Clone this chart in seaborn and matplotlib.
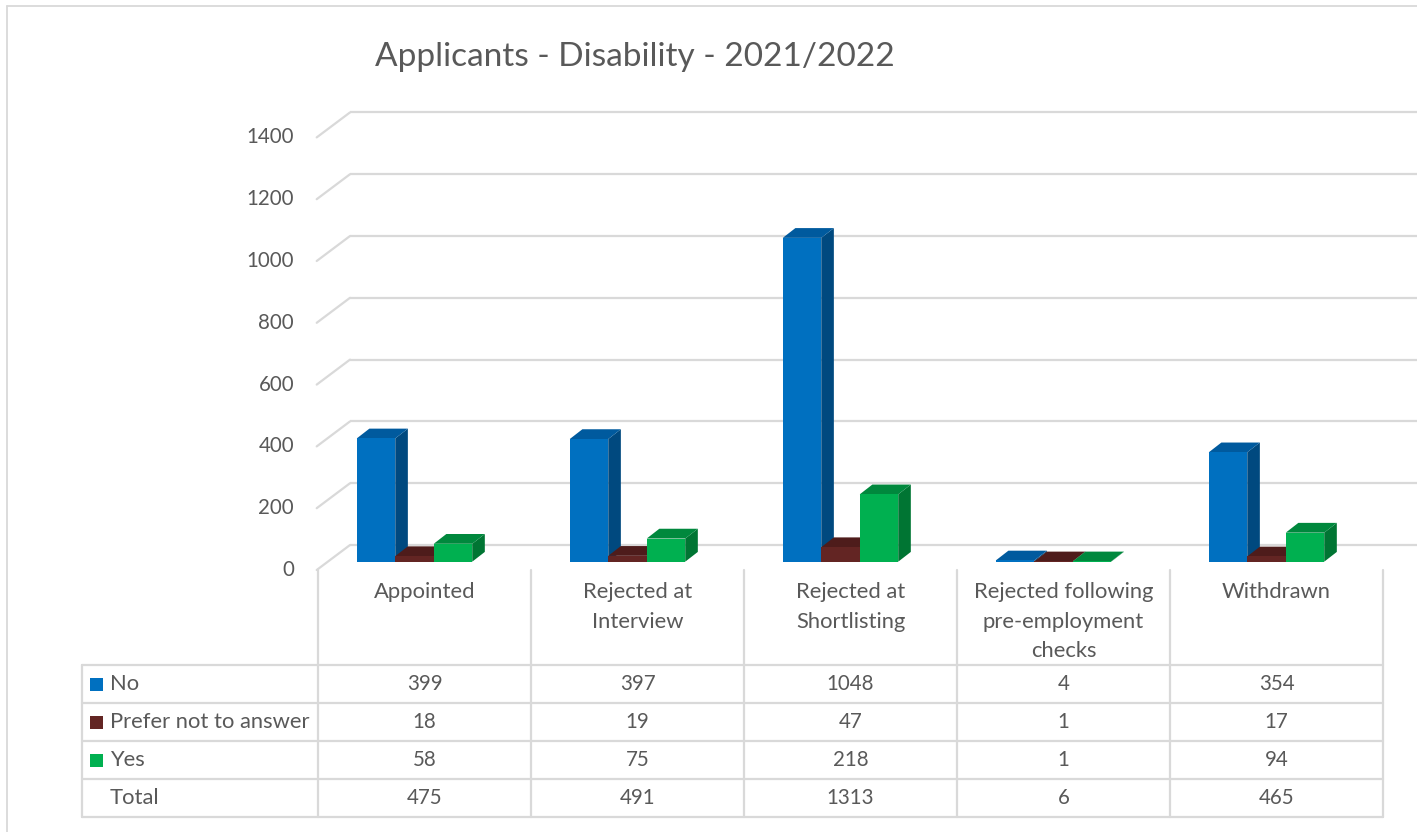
import matplotlib
matplotlib.use("Agg")
import matplotlib.pyplot as plt
from matplotlib.patches import Polygon, Rectangle
from matplotlib.lines import Line2D
import seaborn as sns
import pandas as pd

# ---- data -------------------------------------------------------------
stages = ["Appointed", "Rejected at\nInterview", "Rejected at\nShortlisting",
          "Rejected following\npre-employment\nchecks", "Withdrawn"]
responses = ["No", "Prefer not to answer", "Yes"]
no_counts = [399, 397, 1048, 4, 354]
prefer_counts = [18, 19, 47, 1, 17]
yes_counts = [58, 75, 218, 1, 94]
totals = [475, 491, 1313, 6, 465]
y_ticks = [0, 200, 400, 600, 800, 1000, 1200, 1400]
title = "Applicants - Disability - 2021/2022"

front_colors = ["#0070C0", "#632523", "#00B050"]
top_colors = ["#005A9E", "#4E1C1B", "#00883D"]
side_colors = ["#00497F", "#471918", "#007533"]
grid_color = "#D9D9D9"
text_color = "#595959"

label_size = 15.8
number_size = 14.8

# ---- figure / pixel helpers ------------------------------------------
W, H = 1417, 832
sns.set_theme(style="white")
plt.rcParams["font.family"] = ["Lato", "DejaVu Sans"]
fig = plt.figure(figsize=(W / 100, H / 100), dpi=100)


def fx(px):
    return px / W


def fy(py):
    return 1 - py / H


def hline(x0, x1, y, **kw):
    fig.add_artist(Line2D([fx(x0), fx(x1)], [fy(y), fy(y)],
                          transform=fig.transFigure, **kw))


def vline(x, y0, y1, **kw):
    fig.add_artist(Line2D([fx(x), fx(x)], [fy(y0), fy(y1)],
                          transform=fig.transFigure, **kw))


# outer chart frame
hline(7, W, 6, color=grid_color, lw=1.3)
vline(7, 6, H, color=grid_color, lw=1.3)

# ---- 3D column area ---------------------------------------------------
# axes spans the whole figure; data units: x = category, y = value
cat_px = 213.0          # pixels per category
x0_px = 414.5           # pixel x of the first group centre (front face)
val_px = 0.309          # pixels per unit of value
base_py = 561.7         # pixel y of value 0 on the bars' front plane
depth_ratio = 0.776     # vertical / horizontal shift of receding edges

ax = fig.add_axes([0, 0, 1, 1])
df = pd.DataFrame({
    "stage": [s for s in stages for _ in responses],
    "response": responses * len(stages),
    "count": [v for trio in zip(no_counts, prefer_counts, yes_counts) for v in trio],
})
sns.barplot(data=df, x="stage", y="count", hue="response", order=stages,
            hue_order=responses, palette=front_colors, width=0.542, gap=0,
            saturation=1, dodge=True, legend=False, ax=ax, zorder=3,
            linewidth=0)

xlim = (-x0_px / cat_px, (W - x0_px) / cat_px)
ylim = (-(H - base_py) / val_px, base_py / val_px)
ax.set_xlim(*xlim)
ax.set_ylim(*ylim)
ax.set_axis_off()


def dx(px):
    return px / cat_px


def dv(px):
    return px * depth_ratio / val_px


# back wall and left wall gridlines
back_shift = 21.5
front_shift = -10.7
wall_front_x = dx(316.7 - x0_px)
wall_back_x = dx(350 - x0_px)
for g in y_ticks:
    ax.plot([wall_back_x, xlim[1]], [g + dv(back_shift)] * 2,
            color=grid_color, lw=1.6, zorder=1, solid_capstyle="butt")
    ax.plot([wall_front_x, wall_back_x],
            [g + dv(front_shift), g + dv(back_shift)],
            color=grid_color, lw=1.6, zorder=1)
    ax.text(dx(294 - x0_px), g + dv(front_shift), str(g), ha="right",
            va="center", fontsize=number_size, color=text_color)

# top and side faces of each column
bar_depth = 12.6
for i, p in enumerate(ax.patches):
    hue_idx = i // len(stages)
    x_l = p.get_x()
    x_r = x_l + p.get_width()
    h = p.get_height()
    ddx, ddv = dx(bar_depth), dv(bar_depth)
    top = Polygon([(x_l, h), (x_r, h), (x_r + ddx, h + ddv), (x_l + ddx, h + ddv)],
                  closed=True, facecolor=top_colors[hue_idx], edgecolor="none",
                  zorder=2)
    side = Polygon([(x_r, 0), (x_r + ddx, ddv), (x_r + ddx, h + ddv), (x_r, h)],
                   closed=True, facecolor=side_colors[hue_idx], edgecolor="none",
                   zorder=2)
    ax.add_patch(side)
    ax.add_patch(top)

# ---- title -------------------------------------------------------------
fig.text(fx(635), fy(57), title, ha="center", va="center",
         fontsize=24, color=text_color)

# ---- data table --------------------------------------------------------
col_edges = [318, 531, 744, 957, 1170, 1383]
row_edges = [665, 703, 741, 779, 817]
tbl_left = 81.7
for x in col_edges:
    vline(x, 570, row_edges[-1], color=grid_color, lw=1.6)
vline(tbl_left, row_edges[0], row_edges[-1], color=grid_color, lw=1.6)
for y in row_edges:
    hline(tbl_left, col_edges[-1], y, color=grid_color, lw=1.6)

centers = [(a + b) / 2 for a, b in zip(col_edges[:-1], col_edges[1:])]
line_pitch = 29.5
for cx, label in zip(centers, stages):
    for k, line in enumerate(label.split("\n")):
        fig.text(fx(cx), fy(592 + k * line_pitch), line, ha="center",
                 va="center", fontsize=label_size, color=text_color)

row_names = responses + ["Total"]
row_values = [no_counts, prefer_counts, yes_counts, totals]
for r, (name, vals) in enumerate(zip(row_names, row_values)):
    cy = (row_edges[r] + row_edges[r + 1]) / 2
    if r < len(front_colors):
        fig.add_artist(Rectangle((fx(90), fy(cy + 6.5)), 13 / W, 13 / H,
                                 transform=fig.transFigure,
                                 facecolor=front_colors[r], edgecolor="none"))
    fig.text(fx(110), fy(cy), name, ha="left", va="center",
             fontsize=label_size, color=text_color)
    for cx, v in zip(centers, vals):
        fig.text(fx(cx), fy(cy), str(v), ha="center", va="center",
                 fontsize=number_size, color=text_color)

fig.savefig("out.png", dpi=100, facecolor="white")
